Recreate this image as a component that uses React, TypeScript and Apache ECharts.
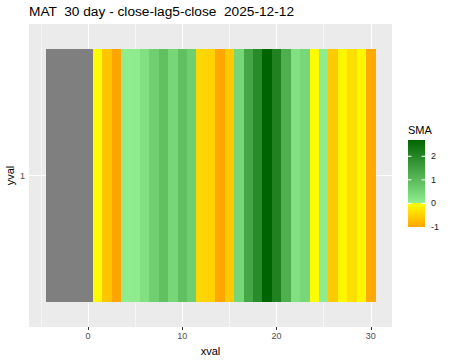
import React, { useEffect, useRef } from "react";
import * as echarts from "echarts";

const titleText = "MAT  30 day - close-lag5-close  2025-12-12";
const xs = [-4, -3, -2, -1, 0, 1, 2, 3, 4, 5, 6, 7, 8, 9, 10, 11, 12, 13, 14, 15, 16, 17, 18, 19, 20, 21, 22, 23, 24, 25, 26, 27, 28, 29, 30];
const sma: (number | null)[] = [
  null, null, null, null, null,
  -0.03, -0.64, -1.0, 0.02, 0.04, 0.27, 0.6, 0.88, 0.46, 0.88,
  0.62, -0.44, -0.5, -0.98, -0.58, 0.46, 1.4, 1.93, 2.69, 2.12,
  1.22, 0.27, 0.45, -0.02, 0.03, -0.6, -0.1, -0.36, -0.1, -0.95,
];
const xTicks = [0, 10, 20, 30];
const xMinor = [-5, 5, 15, 25];
const yCats = ["1"];
const legendTicks = [-1, 0, 1, 2];

const FONT = "Liberation Sans, Arial, sans-serif";
const NA_COLOR = "#7F7F7F";
const LOW = [255, 165, 0];
const ZERO_NEG = [255, 255, 0];
const ZERO_POS = [144, 238, 144];
const HIGH = [0, 100, 0];

const vals = sma.filter((v) => v !== null) as number[];
const vMin = Math.min(...vals);
const vMax = Math.max(...vals);

function mix(a: number[], b: number[], t: number) {
  const c = a.map((av, i) => Math.round(av + (b[i] - av) * t));
  return `rgb(${c[0]},${c[1]},${c[2]})`;
}
function colorOf(v: number | null) {
  if (v === null) return NA_COLOR;
  if (v < 0) return mix(ZERO_NEG, LOW, Math.min(1, v / vMin));
  return mix(ZERO_POS, HIGH, Math.min(1, v / vMax));
}

export default function App() {
  const ref = useRef<HTMLDivElement>(null);
  useEffect(() => {
    document.body.style.margin = "0";
    const chart = echarts.init(ref.current!, null, { renderer: "svg" });

    const barX = 408, barY = 140, barW = 17, barH = 87;
    const yOf = (v: number) => barY + barH - ((v - vMin) / (vMax - vMin)) * barH;
    const z = vMax / (vMax - vMin);
    const legendEls: any[] = [
      { type: "text", x: barX, y: 124, style: { text: "SMA", font: `11px ${FONT}`, fill: "#000" } },
      {
        type: "rect",
        shape: { x: barX, y: barY, width: barW, height: barH },
        style: {
          fill: {
            type: "linear", x: 0, y: 0, x2: 0, y2: 1,
            colorStops: [
              { offset: 0, color: mix(HIGH, HIGH, 0) },
              { offset: z, color: mix(ZERO_POS, ZERO_POS, 0) },
              { offset: z, color: mix(ZERO_NEG, ZERO_NEG, 0) },
              { offset: 1, color: mix(LOW, LOW, 0) },
            ],
          },
        },
      },
    ];
    legendTicks.forEach((t) => {
      const y = yOf(t);
      if (t > vMin) {
        legendEls.push({ type: "line", shape: { x1: barX, y1: y, x2: barX + 3.5, y2: y }, style: { stroke: "#fff", lineWidth: 1 } });
        legendEls.push({ type: "line", shape: { x1: barX + barW - 3.5, y1: y, x2: barX + barW, y2: y }, style: { stroke: "#fff", lineWidth: 1 } });
      }
      legendEls.push({
        type: "text", x: barX + barW + 6, y,
        style: { text: String(t), font: `9px ${FONT}`, fill: "#1a1a1a", verticalAlign: "middle" },
      });
    });

    chart.setOption({
      animation: false,
      title: {
        text: titleText, left: 29, top: 4, padding: 0,
        textStyle: { fontFamily: FONT, fontSize: 13.7, fontWeight: "normal", color: "#000" },
      },
      grid: {
        left: 29, right: 58, top: 24, bottom: 33, show: true, backgroundColor: "#EBEBEB", borderWidth: 0,
        containLabel: false, outerBoundsMode: "none",
      },
      xAxis: [
        {
          type: "value", min: -6.25, max: 32.25,
          name: "xval", nameLocation: "middle", nameGap: 18, nameMoveOverlap: false,
          nameTextStyle: { fontFamily: FONT, fontSize: 11, color: "#000" },
          axisLine: { show: false },
          axisTick: { customValues: xTicks, length: 3, lineStyle: { color: "#333" } },
          axisLabel: { customValues: xTicks, fontFamily: FONT, fontSize: 9, color: "#4D4D4D", margin: 4 },
          splitLine: { show: true, lineStyle: { color: "#fff", width: 1.1 } },
        },
        {
          type: "value", min: -6.25, max: 32.25, position: "bottom",
          axisLine: { show: false },
          axisTick: { show: false, customValues: xMinor },
          axisLabel: { show: false, customValues: xMinor },
          splitLine: { show: true, lineStyle: { color: "#fff", width: 0.55 } },
        },
      ],
      yAxis: {
        type: "value", min: 0.4, max: 1.6,
        name: "yval", nameLocation: "middle", nameGap: 14, nameRotate: 90, nameMoveOverlap: false,
        nameTextStyle: { fontFamily: FONT, fontSize: 11, color: "#000" },
        axisLine: { show: false },
        axisTick: { customValues: [1], length: 3, lineStyle: { color: "#333" } },
        axisLabel: { customValues: [1], formatter: () => yCats[0], fontFamily: FONT, fontSize: 9, color: "#4D4D4D", margin: 4 },
        splitLine: { show: true, lineStyle: { color: "#fff", width: 1.1 } },
      },
      series: [
        {
          type: "custom",
          data: xs.map((x) => [x, 1]),
          encode: { x: 0, y: 1 },
          renderItem: (params: any, api: any) => {
            const x = api.value(0);
            const y = api.value(1);
            const p1 = api.coord([x - 0.5, y + 0.5]);
            const p2 = api.coord([x + 0.5, y - 0.5]);
            const x0 = Math.round(p1[0]);
            const x1 = Math.round(p2[0]);
            const y0 = Math.round(p1[1]);
            const y1 = Math.round(p2[1]);
            return {
              type: "rect",
              shape: { x: x0, y: y0, width: x1 - x0, height: y1 - y0 },
              style: { fill: colorOf(sma[params.dataIndex]) },
            };
          },
        },
      ],
      graphic: legendEls,
    });
    return () => chart.dispose();
  }, []);
  return <div ref={ref} style={{ width: 450, height: 360 }} />;
}
